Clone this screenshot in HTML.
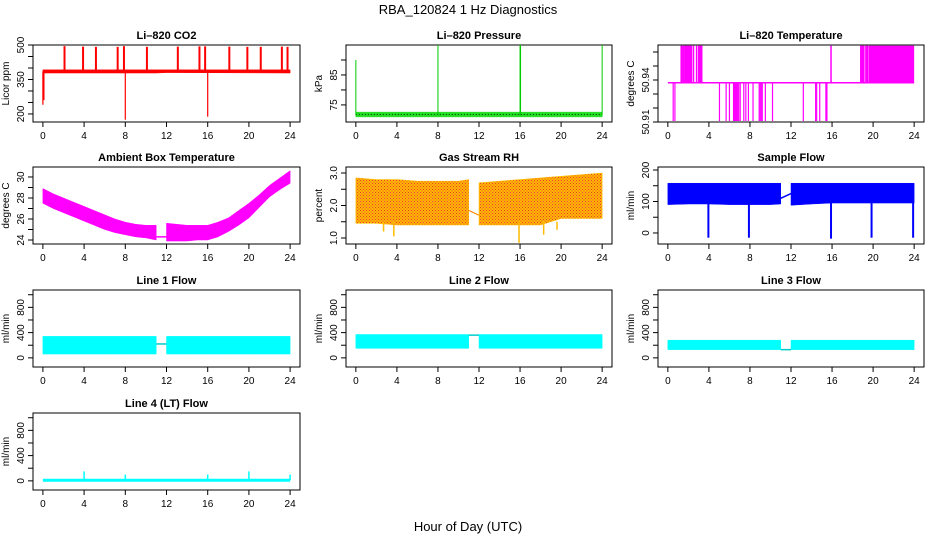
<!DOCTYPE html>
<html><head><meta charset="utf-8"><style>
body{margin:0;background:#fff}
svg{display:block;font-family:"Liberation Sans",Arial,sans-serif}
</style></head><body>
<svg id="c" width="936" height="540" viewBox="0 0 936 540">
<defs>
<pattern id="rhpat" width="3" height="3" patternUnits="userSpaceOnUse">
<rect width="3" height="3" fill="#fb0"/>
<rect x="0" y="0" width="1" height="1" fill="#e33"/>
<rect x="1.5" y="1.5" width="1" height="1" fill="#e33"/>
</pattern>
</defs>
<text x="468" y="14" text-anchor="middle" font-size="13">RBA_120824  1 Hz Diagnostics</text>
<text x="468" y="531" text-anchor="middle" font-size="13">Hour of Day (UTC)</text>
</svg>
<script>
// ---- data ----
const xTicks=[0,4,8,12,16,20,24];
// CO2
const co2BandH=[0,11,12,24];
const co2Lo=[378,378,380,378];
const co2Hi=[392,392,392,392];
const co2UpH=[2.1,3.9,5.15,7.26,7.87,10.1,13.1,15.2,15.75,18.1,19.85,21.15,23.2,23.75];
const co2UpV=[495,493,492,492,495,492,493,494,494,493,492,492,493,492];
const co2DnH=[0,0.1,8,16];
const co2DnV=[240,260,175,188];
// Pressure
const prBandH=[0,11.5,12.5,24];
const prLo=[71,71,71,71];
const prHi=[72.6,72.6,72.6,72.6];
const prSpkH=[0,8,16,16.05,24];
const prSpkV=[90,95,95,95,95];
// Li-820 temperature
const tBase=50.938;
const tHighH=[1.3,1.4,1.55,1.7,1.8,1.9,2.0,2.1,2.2,2.3,2.5,2.8,3.0,3.1,3.2,3.3,15.9,18.8,18.9,19.0,19.1,19.3,19.4,19.5];
const tHighBlock=[19.6,24];
const tLowH=[0.52,0.69,5.03,5.68,6.0,6.4,6.5,6.6,6.7,6.8,6.9,7.05,7.4,7.6,7.85,8.3,8.9,9.0,9.1,9.2,9.5,10.2,13.2,14.4,14.5,14.8,15.4,15.5];
// Ambient box temperature
const ambH=[0,1,2,3,4,5,6,7,8,9,10,11,12,13,14,15,16,17,18,19,20,21,22,23,24];
const ambLo=[27.5,27.0,26.6,26.2,25.8,25.4,25.0,24.7,24.5,24.3,24.2,24.0,23.9,23.9,23.9,24.0,24.0,24.3,24.8,25.4,26.1,27.1,28.1,28.8,29.4];
const ambHi=[28.9,28.4,28.0,27.6,27.2,26.8,26.4,26.0,25.7,25.5,25.4,25.4,25.6,25.5,25.4,25.4,25.4,25.7,26.1,26.8,27.5,28.3,29.2,29.9,30.6];
// Gas stream RH
const rhH=[0,2,4,6,8,10,11,12,14,16,18,20,22,24];
const rhLo=[1.45,1.45,1.4,1.4,1.4,1.4,1.4,1.4,1.4,1.4,1.4,1.6,1.6,1.6];
const rhHi=[2.85,2.8,2.8,2.75,2.75,2.75,2.8,2.7,2.75,2.8,2.85,2.9,2.95,3.0];
const rhDnH=[2.7,3.7,15.9,18.3,19.6];
const rhDnV=[1.2,1.05,0.85,1.1,1.25];
// Sample flow
const sfH=[0,2,4,6,8,10,11,12,14,16,18,20,22,24];
const sfLo=[90,92,92,90,90,90,92,88,92,95,95,95,95,95];
const sfHi=[158,158,158,158,158,158,158,158,158,158,158,158,158,158];
const sfDnH=[3.95,7.9,15.9,19.85,23.9];
const sfDnV=[-15,-15,-18,-15,-15];
// Line flows
const l1Lo=[60,60,60,60,60,60,60,60,60,60,60,60,60,60];
const l1Hi=[340,340,340,340,340,340,340,340,340,340,340,340,340,340];
const l2Lo=[150,150,150,150,150,150,150,150,150,150,150,150,150,150];
const l2Hi=[370,370,370,370,370,370,370,370,370,370,370,370,370,370];
const l3Lo=[130,130,130,130,130,130,130,130,130,130,130,130,130,130];
const l3Hi=[280,280,280,280,280,280,280,280,280,280,280,280,280,280];
const flowH=[0,2,4,6,8,10,11,12,14,16,18,20,22,24];
const l4SpkH=[4,8,16,20,24];
const l4SpkV=[150,100,100,150,100];
const l4Base=10;

// ---- layout ----
const NS="http://www.w3.org/2000/svg";
const svg=document.getElementById('c');
const cols=[[33,300],[346,612],[658,924]];
const rows=[45,167,290,413];
const BH=77;
function mk(tag,attrs,parent){const e=document.createElementNS(NS,tag);for(const k in attrs)e.setAttribute(k,attrs[k]);(parent||svg).appendChild(e);return e;}
function panel(r,c,title,ylab,ylo,yhi,ticks,labels,name,fmt){
  const [x0,x1]=cols[c];const y0=rows[r],y1=y0+BH;
  const g=mk('g',{});
  
  
  const sx=h=>x0+(x1-x0)*(h+0.96)/25.92;
  const sy=v=>y1-(v-ylo)/(yhi-ylo)*BH;
  const P={g,sx,sy,x0,x1,y0,y1};
  const box=mk('rect',{x:x0,y:y0,width:x1-x0,height:BH,fill:'none',stroke:'#000','stroke-width':1},g);
  
  
  const t=mk('text',{x:(x0+x1)/2,y:y0-6,'text-anchor':'middle','font-size':11,'font-weight':'bold'},g);
  t.textContent=title;
  
  
  const xa=mk('g',{},g);
  
  
  mk('line',{x1:sx(0),x2:sx(24),y1:y1,y2:y1,stroke:'#000'},xa);
  xTicks.forEach(h=>{mk('line',{x1:sx(h),x2:sx(h),y1:y1,y2:y1+5,stroke:'#000'},xa);
    const l=mk('text',{x:sx(h),y:y1+17,'text-anchor':'middle','font-size':10},xa);l.textContent=h;
    
    });
  const ya=mk('g',{},g);
  
  
  mk('line',{x1:x0,x2:x0,y1:sy(ticks[0]),y2:sy(ticks[ticks.length-1]),stroke:'#000'},ya);
  ticks.forEach(v=>{mk('line',{x1:x0-5,x2:x0,y1:sy(v),y2:sy(v),stroke:'#000'},ya);});
  labels.forEach(v=>{const yy=sy(v);const l=mk('text',{x:x0-9,y:yy,'text-anchor':'middle','font-size':10,transform:`rotate(-90 ${x0-9} ${yy})`},ya);l.textContent=fmt?fmt(v):v;
    
    });
  const yl=mk('text',{x:x0-24,y:(y0+y1)/2,'text-anchor':'middle','font-size':10,transform:`rotate(-90 ${x0-24} ${(y0+y1)/2})`},ya);
  yl.textContent=ylab;
  
  
  return P;
}
function band(P,H,lo,hi,col,name){
  let pts=[];H.forEach((h,i)=>pts.push(P.sx(h)+','+P.sy(hi[i])));
  for(let i=H.length-1;i>=0;i--)pts.push(P.sx(H[i])+','+P.sy(lo[i]));
  const e=mk('polygon',{points:pts.join(' '),fill:col,stroke:col.startsWith('url')?'#fb0':col,'stroke-width':0.5},P.g);
  
  
  return e;
}
function vline(P,h,a,b,col,w,name){
  const e=mk('line',{x1:P.sx(h),x2:P.sx(h),y1:P.sy(a),y2:P.sy(b),stroke:col,'stroke-width':w||1},P.g);
  
  
}
function hline(P,h0,h1,v0,v1,col,w,name,dash){
  const e=mk('line',{x1:P.sx(h0),x2:P.sx(h1),y1:P.sy(v0),y2:P.sy(v1),stroke:col,'stroke-width':w||1},P.g);
  if(dash)e.setAttribute('stroke-dasharray',dash);
  
  
}
function split(H,lo,hi){const a={H:[],lo:[],hi:[]},b={H:[],lo:[],hi:[]};H.forEach((h,i)=>{const t=h<=11?a:b;t.H.push(h);t.lo.push(lo[i]);t.hi.push(hi[i]);});return [a,b];}

// CO2
let P=panel(0,0,'Li\u2013820 CO2','Licor ppm',165,500,[200,250,300,350,400,450,500],[200,350,500],'co2');
band(P,co2BandH,co2Lo,co2Hi,'#f00','co2-band');
co2UpH.forEach((h,i)=>vline(P,h,385,co2UpV[i],'#f00',2,'co2-spike'));
co2DnH.forEach((h,i)=>vline(P,h,385,co2DnV[i],'#f00',1.2,'co2-dip'));
// Pressure
P=panel(0,1,'Li\u2013820 Pressure','kPa',69.3,95,[75,80,85,90],[75,85],'pressure');
band(P,prBandH,prLo,prHi,'#2d2','pressure-band');
hline(P,0,24,71.8,71.8,'#000',0.7,'pressure-dots','1 2');
prSpkH.forEach((h,i)=>vline(P,h,71.5,prSpkV[i],'#0c0',1,'pressure-spike'));
// Temp
P=panel(0,2,'Li\u2013820 Temperature','degrees C',50.91,50.965,[50.91,50.92,50.93,50.94,50.95,50.96],[50.91,50.94],'li820-temp');
hline(P,0,24,tBase,tBase,'#f0f',1.5,'temp-base');
tHighH.forEach(h=>vline(P,h,tBase,50.9645,'#f0f',1.5,'temp-high'));
{const e=mk('rect',{x:P.sx(tHighBlock[0]),y:P.sy(50.9645),width:P.sx(tHighBlock[1])-P.sx(tHighBlock[0]),height:P.sy(tBase)-P.sy(50.9645),fill:'#f0f'},P.g);

}
tLowH.forEach(h=>vline(P,h,tBase,50.9107,'#f0f',1.2,'temp-low'));
// Ambient
P=panel(1,0,'Ambient Box Temperature','degrees C',23.62,30.95,[24,25,26,27,28,29,30],[24,26,28,30],'ambient');
{const [a,b]=split(ambH,ambLo,ambHi);band(P,a.H,a.lo,a.hi,'#f0f','ambient-band-am');band(P,b.H,b.lo,b.hi,'#f0f','ambient-band-pm');hline(P,11,12,24.3,24.3,'#f0f',1.5,'ambient-gap');}
// RH
P=panel(1,1,'Gas Stream RH','percent',0.815,3.185,[1,1.5,2,2.5,3],[1,2,3],'rh',v=>v.toFixed(1));
{const [a,b]=split(rhH,rhLo,rhHi);band(P,a.H,a.lo,a.hi,'url(#rhpat)','rh-band-am');band(P,b.H,b.lo,b.hi,'url(#rhpat)','rh-band-pm');hline(P,11,12,1.85,1.7,'#f80',1.2,'rh-gap');
rhDnH.forEach((h,i)=>vline(P,h,1.5,rhDnV[i],'#fb0',1.5,'rh-dip'));}
// Sample flow
P=panel(1,2,'Sample Flow','ml/min',-35,209.5,[0,50,100,150,200],[0,100,200],'sample-flow');
{const [a,b]=split(sfH,sfLo,sfHi);band(P,a.H,a.lo,a.hi,'#00f','sample-band-am');band(P,b.H,b.lo,b.hi,'#00f','sample-band-pm');hline(P,11,12,110,125,'#00f',1.5,'sample-gap');
sfDnH.forEach((h,i)=>vline(P,h,120,sfDnV[i],'#00f',2,'sample-dip'));}
// Line flows
const fT=[0,200,400,600,800,1000],fL=[0,400,800];
[[2,0,'Line 1 Flow',l1Lo,l1Hi,220],[2,1,'Line 2 Flow',l2Lo,l2Hi,360],[2,2,'Line 3 Flow',l3Lo,l3Hi,130]].forEach(([r,c,t,lo,hi,gv],k)=>{
  const Q=panel(r,c,t,'ml/min',-145,1075,fT,fL,'line'+(k+1)+'-flow');
  const [a,b]=split(flowH,lo,hi);band(Q,a.H,a.lo,a.hi,'#0ff','line-band-am');band(Q,b.H,b.lo,b.hi,'#0ff','line-band-pm');hline(Q,11,12,gv,gv,'#0cc',1.5,'line-gap');
});
P=panel(3,0,'Line 4 (LT) Flow','ml/min',-145,1075,fT,fL,'line4-flow');
hline(P,0,24,l4Base,l4Base,'#0ff',3,'line4-base');
l4SpkH.forEach((h,i)=>vline(P,h,l4Base,l4SpkV[i],'#0ff',1.5,'line4-spike'));
</script>
</body></html>
